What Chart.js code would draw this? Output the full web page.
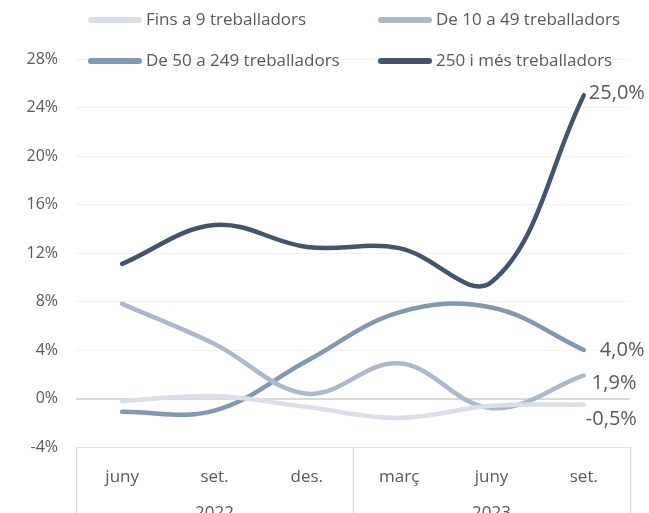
<!DOCTYPE html>
<html>
<head>
<meta charset="utf-8">
<script src="https://cdn.jsdelivr.net/npm/chart.js@4.4.0/dist/chart.umd.min.js"></script>
<style>
  html, body { margin: 0; padding: 0; background: #fff; }
  #wrap { width: 649px; height: 513px; position: relative; }
</style>
</head>
<body>
<div id="wrap"><canvas id="chart"></canvas></div>
<script>
// Data
const months = ['juny', 'set.', 'des.', 'març', 'juny', 'set.'];
const years = ['2022', '2023'];
const seriesNames = ['Fins a 9 treballadors', 'De 10 a 49 treballadors', 'De 50 a 249 treballadors', '250 i més treballadors'];
const fins9 = [-0.2, 0.2, -0.7, -1.6, -0.6, -0.5];
const de10a49 = [7.8, 4.5, 0.4, 2.9, -0.8, 1.9];
const de50a249 = [-1.1, -1.0, 3.1, 7.1, 7.5, 4.0];
const mes250 = [11.1, 14.3, 12.5, 12.4, 9.6, 25.0];
const yTicks = [-4, 0, 4, 8, 12, 16, 20, 24, 28];

const colors = ['#d9dee7', '#adb8cb', '#8497b0', '#44546a'];
const FONT = '"Open Sans", sans-serif';
const TEXT = '#595959';

// legend drawn in two fixed columns, overlapping the top of the plot like the original
const legendPlugin = {
    id: 'gridLegend',
    afterDraw(chart) {
        const ctx = chart.ctx;
        const cols = [88, 378];
        const rows = [20, 61];
        ctx.save();
        ctx.font = '17px ' + FONT;
        ctx.textBaseline = 'middle';
        chart.data.datasets.forEach((ds, i) => {
            const x = cols[i % 2], y = rows[Math.floor(i / 2)];
            ctx.strokeStyle = ds.borderColor;
            ctx.lineWidth = 6;
            ctx.lineCap = 'round';
            ctx.beginPath();
            ctx.moveTo(x + 3, y);
            ctx.lineTo(x + 51, y);
            ctx.stroke();
            ctx.fillStyle = TEXT;
            ctx.fillText(ds.label, x + 58, y);
        });
        ctx.restore();
    }
};

// end labels, group separators and year labels
const extrasPlugin = {
    id: 'extras',
    afterDraw(chart) {
        const ctx = chart.ctx;
        const xs = chart.scales.x;
        const area = chart.chartArea;
        const half = (xs.getPixelForValue(1) - xs.getPixelForValue(0)) / 2;
        ctx.save();
        // separators below axis
        ctx.strokeStyle = '#d9d9d9';
        ctx.lineWidth = 1;
        [0, 3, 6].forEach(i => {
            const x = Math.round(xs.getPixelForValue(0) - half + i * half * 2) + 0.5;
            ctx.beginPath();
            ctx.moveTo(x, area.bottom);
            ctx.lineTo(x, chart.height);
            ctx.stroke();
        });
        // year labels
        ctx.fillStyle = TEXT;
        ctx.font = '17px ' + FONT;
        ctx.textAlign = 'center';
        ctx.textBaseline = 'middle';
        years.forEach((yr, g) => {
            ctx.fillText(yr, xs.getPixelForValue(g * 3 + 1), area.bottom + 66);
        });
        // end value labels
        ctx.font = '20px ' + FONT;
        ctx.textAlign = 'left';
        const shifts = [{ dx: 2, dy: 15 }, { dx: 8, dy: 8 }, { dx: 16, dy: 0 }, { dx: 5, dy: -2 }];
        chart.data.datasets.forEach((ds, i) => {
            const meta = chart.getDatasetMeta(i);
            const pt = meta.data[meta.data.length - 1];
            const v = ds.data[ds.data.length - 1];
            const txt = v.toFixed(1).replace('.', ',') + '%';
            ctx.fillText(txt, pt.x + shifts[i].dx, pt.y + shifts[i].dy);
        });
        ctx.restore();
    }
};

const ctx = document.getElementById('chart').getContext('2d');
new Chart(ctx, {
    type: 'line',
    data: {
        labels: months,
        datasets: [fins9, de10a49, de50a249, mes250].map((d, i) => ({
            label: seriesNames[i],
            data: d,
            borderColor: colors[i],
            backgroundColor: colors[i],
            borderWidth: 4.5,
            tension: 0.38,
            pointRadius: 0,
            borderCapStyle: 'round',
            fill: false
        }))
    },
    options: {
        responsive: true,
        maintainAspectRatio: false,
        animation: false,
        layout: { padding: { top: 59, right: 19, left: 0, bottom: 0 } },
        plugins: {
            legend: { display: false },
            tooltip: { enabled: false }
        },
        scales: {
            x: {
                offset: true,
                grid: { display: false },
                border: { display: false },
                ticks: {
                    color: TEXT,
                    font: { family: FONT, size: 17 },
                    padding: 12,
                    maxRotation: 0
                },
                afterFit: s => { s.height = 66; }
            },
            y: {
                min: -4,
                max: 28,
                afterBuildTicks: s => { s.ticks = yTicks.map(v => ({ value: v })); },
                grid: {
                    drawTicks: false,
                    color: c => c.tick.value === 0 ? '#d9d9d9' : (c.tick.value === -4 ? '#e0e0e0' : '#f2f2f2'),
                    lineWidth: c => c.tick.value === 0 ? 2 : 1
                },
                border: { display: false },
                ticks: {
                    color: TEXT,
                    font: { family: FONT, size: 16 },
                    padding: 18,
                    callback: v => v + '%'
                },
                afterFit: s => { s.width = 76; }
            }
        }
    },
    plugins: [legendPlugin, extrasPlugin]
});
</script>
</body>
</html>
